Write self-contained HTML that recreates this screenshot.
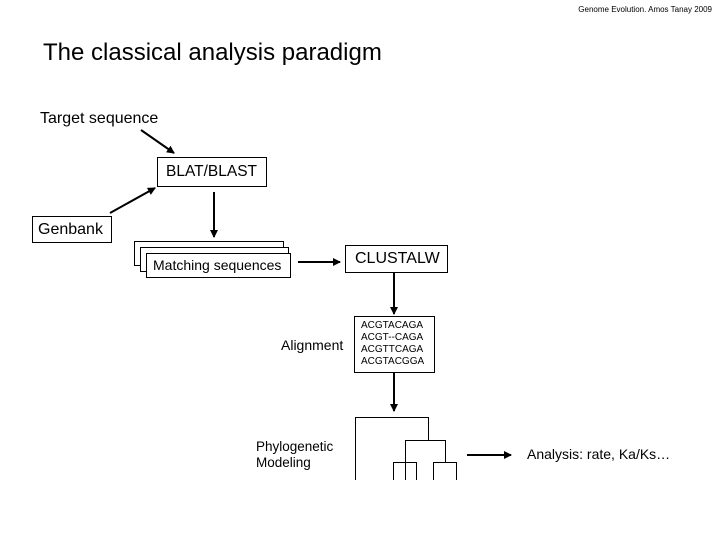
<!DOCTYPE html>
<html><head><style>
body{margin:0;background:#fff;width:720px;height:540px;overflow:hidden;position:relative;font-family:"Liberation Sans",sans-serif;color:#000}
.t{position:absolute;white-space:nowrap}
</style></head><body>
<div class="t" style="right:8px;top:5px;font-size:8px">Genome Evolution. Amos Tanay 2009</div>
<div class="t" style="left:43px;top:39px;font-size:24px">The classical analysis paradigm</div>
<div class="t" style="left:40px;top:110px;font-size:16px">Target sequence</div>
<svg width="720" height="540" style="position:absolute;left:0;top:0">
<defs><marker id="a" markerWidth="8" markerHeight="8" refX="7" refY="4" orient="auto" markerUnits="userSpaceOnUse"><path d="M0,0L8,4L0,8z"/></marker></defs>
<g stroke="#000" stroke-width="2" fill="none">
<line x1="141" y1="130" x2="174" y2="153" marker-end="url(#a)"/>
<line x1="110" y1="213" x2="155" y2="188" marker-end="url(#a)"/>
<line x1="214" y1="192" x2="214" y2="237" marker-end="url(#a)"/>
<line x1="298" y1="262" x2="340" y2="262" marker-end="url(#a)"/>
<line x1="394" y1="273" x2="394" y2="314" marker-end="url(#a)"/>
<line x1="394" y1="373" x2="394" y2="411" marker-end="url(#a)"/>
<line x1="467" y1="455" x2="511" y2="455" marker-end="url(#a)"/>
</g>
<g stroke="#000" stroke-width="1" fill="#fff">
<rect x="157.5" y="157.5" width="109" height="29"/>
<rect x="32.5" y="216.5" width="79" height="26"/>
<rect x="134.5" y="241.5" width="149" height="24"/>
<rect x="140.5" y="247.5" width="148" height="24"/>
<rect x="146.5" y="253.5" width="144" height="24"/>
<rect x="345.5" y="245.5" width="102" height="27"/>
<rect x="354.5" y="316.5" width="80" height="56"/>
</g>
<g stroke="#000" stroke-width="1" fill="none">
<path d="M355.5 480V417.5H428.5V440.5"/>
<path d="M405.5 480V440.5H445.5V462.5"/>
<path d="M393.5 480V462.5H416.5V480"/>
<path d="M433.5 480V462.5H456.5V480"/>
</g>
</svg>
<div class="t" style="left:166px;top:163px;font-size:15.5px">BLAT/BLAST</div>
<div class="t" style="left:38px;top:221px;font-size:16px">Genbank</div>
<div class="t" style="left:153px;top:257px;font-size:14px">Matching sequences</div>
<div class="t" style="left:355px;top:250px;font-size:16px">CLUSTALW</div>
<div class="t" style="left:281px;top:337px;font-size:14px">Alignment</div>
<div class="t" style="left:361px;top:320px;font-size:10px;line-height:12px">ACGTACAGA<br>ACGT--CAGA<br>ACGTTCAGA<br>ACGTACGGA</div>
<div class="t" style="left:256px;top:439px;font-size:13.5px;line-height:16px">Phylogenetic<br>Modeling</div>
<div class="t" style="left:527px;top:446px;font-size:14px">Analysis: rate, Ka/Ks…</div>
</body></html>
